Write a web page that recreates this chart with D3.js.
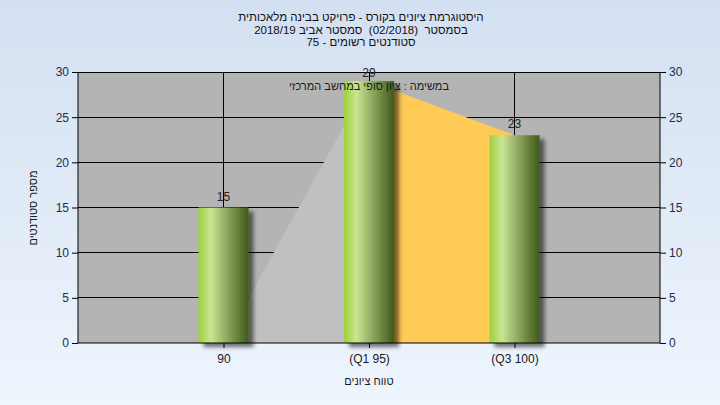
<!DOCTYPE html>
<html><head><meta charset="utf-8">
<script src="https://cdn.jsdelivr.net/npm/d3@7"></script>
<style>
html,body{margin:0;padding:0;}
svg{display:block;font-family:"Liberation Sans","DejaVu Sans",Arial,sans-serif;}
.pre{white-space:pre;}
</style></head>
<body>
<script>
const titleLines = ["היסטוגרמת ציונים בקורס - פרויקט בבינה מלאכותית", "בסמסטר  (02/2018)  סמסטר אביב 2018/19", "סטודנטים רשומים - 75"];
const categories = ["90", "(Q1 95)", "(Q3 100)"];
const counts = [15, 29, 23];
const rangeArea = [0, 29, 23];
const yTicks = [0, 5, 10, 15, 20, 25, 30];
const note = "במשימה : ציון סופי במחשב המרכזי";
const xTitle = "טווח ציונים";
const yTitle = "מספר סטודנטים";

const W = 720, H = 405;
const svg = d3.select("body").append("svg").attr("width", W).attr("height", H);
const defs = svg.append("defs");
const bg = defs.append("linearGradient").attr("id","bg").attr("x1",0).attr("y1",0).attr("x2",0).attr("y2",1);
bg.append("stop").attr("offset","0%").attr("stop-color","#d3e0f1");
bg.append("stop").attr("offset","100%").attr("stop-color","#eef5fd");
const bar = defs.append("linearGradient").attr("id","bar").attr("x1",0).attr("y1",0).attr("x2",1).attr("y2",0);
[["0%","#9bd13a"],["25%","#c9e592"],["60%","#88a25a"],["100%","#3f5918"]].forEach(s=>bar.append("stop").attr("offset",s[0]).attr("stop-color",s[1]));
const f = defs.append("filter").attr("id","sh").attr("x","-20%").attr("y","-10%").attr("width","160%").attr("height","130%");
f.append("feDropShadow").attr("dx",5).attr("dy",4).attr("stdDeviation",2).attr("flood-color","#000").attr("flood-opacity",0.55);

svg.append("rect").attr("width",W).attr("height",H).attr("fill","url(#bg)");

const L = 78, R = 660, T = 72, B = 343;
const x = d3.scaleLinear().domain([0, categories.length + 1]).range([L, R]);
const y = d3.scaleLinear().domain([0, 30]).range([B, T]);
const cx = i => x(i + 1);

svg.append("rect").attr("x",L).attr("y",T).attr("width",R-L).attr("height",B-T).attr("fill","#b4b4b4");

// grid
svg.append("g").selectAll("line").data(yTicks.filter(d=>d>0)).join("line")
  .attr("x1",L).attr("x2",R).attr("y1",d=>y(d)).attr("y2",d=>y(d)).attr("stroke","#000").attr("stroke-width",1).attr("shape-rendering","crispEdges");
svg.append("g").selectAll("line").data(categories).join("line")
  .attr("x1",(d,i)=>cx(i)).attr("x2",(d,i)=>cx(i)).attr("y1",T).attr("y2",B).attr("stroke","#000").attr("stroke-width",1).attr("shape-rendering","crispEdges");

// areas
const areaColors = ["#c0c0c0", "#fecb57"];
for (let i = 0; i < rangeArea.length - 1; i++) {
  const seg = [[i, rangeArea[i]], [i+1, rangeArea[i+1]]];
  svg.append("path").datum(seg)
    .attr("d", d3.area().x(d=>cx(d[0])).y0(y(0)).y1(d=>y(d[1])))
    .attr("fill", areaColors[i]);
}

// bars
const bw = 50;
svg.append("g").selectAll("rect").data(counts).join("rect")
  .attr("x",(d,i)=>cx(i)-bw/2).attr("width",bw)
  .attr("y",d=>y(d)).attr("height",d=>y(0)-y(d))
  .attr("fill","url(#bar)").attr("filter","url(#sh)");

// value labels
svg.append("g").selectAll("text").data(counts).join("text")
  .attr("x",(d,i)=>cx(i)).attr("y",d=>Math.max(y(d)-7, 77))
  .attr("text-anchor","middle").attr("font-size",12).attr("fill","#222").text(d=>d);

// note
svg.append("text").attr("x",cx(1)).attr("y",90).attr("text-anchor","middle").attr("direction","rtl")
  .attr("font-size",11).attr("fill","#1a1a1a").text(note);

// axes
const axL = svg.append("g").attr("transform",`translate(${L},0)`).call(d3.axisLeft(y).tickValues(yTicks).tickSize(6).tickPadding(3));
const axR = svg.append("g").attr("transform",`translate(${R},0)`).call(d3.axisRight(y).tickValues(yTicks).tickSize(6).tickPadding(3));
const axB = svg.append("g").attr("transform",`translate(0,${B})`).call(d3.axisBottom(x).tickValues(categories.map((d,i)=>i+1)).tickFormat((d)=>categories[d-1]).tickSize(5).tickPadding(6));
[axL, axR, axB].forEach(a=>{
  a.select(".domain").attr("stroke","#000");
  a.selectAll(".tick line").attr("stroke","#000");
  a.selectAll("text").attr("font-size",12).attr("font-family","Liberation Sans, DejaVu Sans, Arial, sans-serif");
});
axL.select(".domain").attr("d",`M0,${T}V${B}`);
axR.select(".domain").attr("d",`M0,${T}V${B}`);
axB.select(".domain").attr("d",`M${L},0H${R}`);
axL.selectAll("text").attr("fill","#1c2d55");
axR.selectAll("text").attr("fill","#1c2d55");
axB.selectAll("text").attr("fill","#1a1a1a");

// titles
svg.append("g").selectAll("text").data(titleLines).join("text")
  .attr("class","pre")
  .attr("x",361).attr("y",(d,i)=>21+i*12.5).attr("text-anchor","middle").attr("direction","rtl")
  .attr("font-size",11.5).attr("fill","#111").text(d=>d);
svg.append("text").attr("x",369).attr("y",385).attr("text-anchor","middle").attr("direction","rtl")
  .attr("font-size",11).attr("fill","#1a1a1a").text(xTitle);
svg.append("text").attr("transform","translate(37,208) rotate(-90)").attr("text-anchor","middle").attr("direction","rtl")
  .attr("font-size",11).attr("fill","#1a1a1a").text(yTitle);
</script>
</body></html>
